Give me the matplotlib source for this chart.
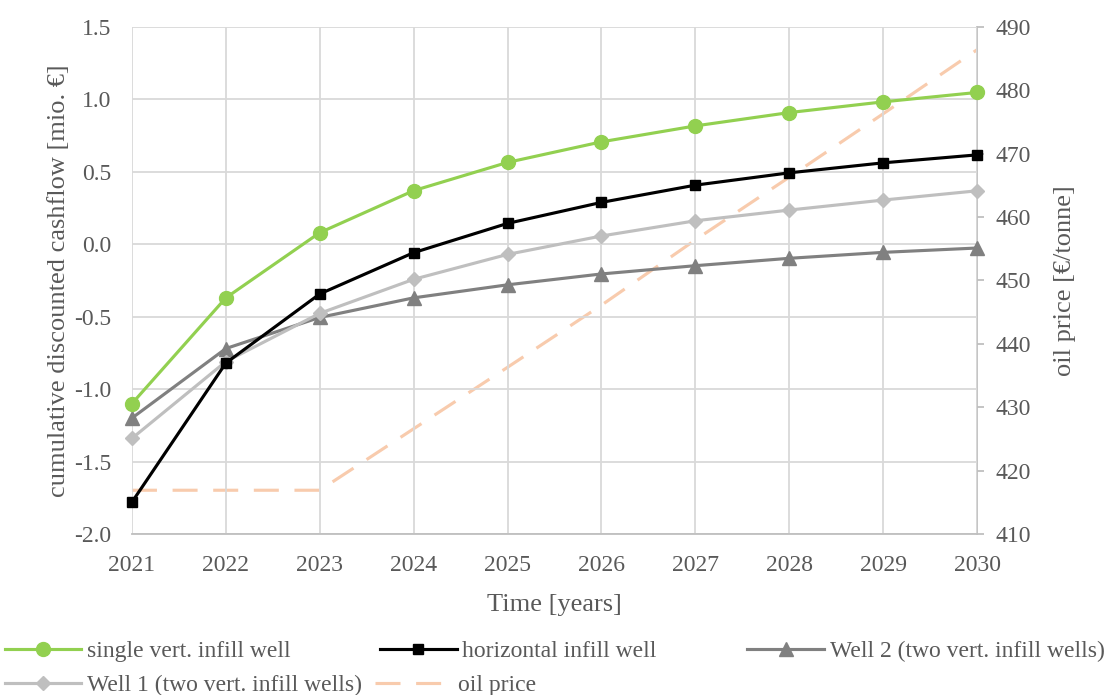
import matplotlib
matplotlib.use("Agg")
import matplotlib.pyplot as plt
from matplotlib.ticker import FormatStrFormatter, MultipleLocator

years = [2021, 2022, 2023, 2024, 2025, 2026, 2027, 2028, 2029, 2030]
single_vert = [-1.10, -0.37, 0.08, 0.37, 0.565, 0.707, 0.817, 0.909, 0.983, 1.048]
horizontal = [-1.78, -0.82, -0.343, -0.058, 0.144, 0.289, 0.408, 0.493, 0.562, 0.617]
well2 = [-1.20, -0.72, -0.505, -0.37, -0.28, -0.205, -0.148, -0.097, -0.056, -0.026]
well1 = [-1.34, -0.81, -0.477, -0.242, -0.070, 0.057, 0.162, 0.236, 0.305, 0.369]
oil_price = [416.9, 416.9, 416.9, 426.6, 436.3, 446.1, 456.4, 466.3, 476.3, 486.4]

labels = ["single vert. infill well", "horizontal infill well",
          "Well 2 (two vert. infill wells)", "Well 1 (two vert. infill wells)",
          "oil price"]

plt.rcParams['font.family'] = ['Liberation Serif', 'DejaVu Serif']
plt.rcParams['axes.unicode_minus'] = False
TXT = '#595959'
FS = 17
FT = 19

fig = plt.figure(figsize=(11.07, 6.95), dpi=100)
ax = fig.add_axes([0.1192, 0.2317, 0.8826 - 0.1192, 0.9612 - 0.2317])
ax2 = ax.twinx()

ax.set_zorder(ax2.get_zorder() + 1)
ax.patch.set_visible(False)

l_oil, = ax2.plot(years, oil_price, color='#F8CBAD', lw=2.25,
                  linestyle=(0, (8, 5)), label=labels[4], clip_on=False)

l3, = ax.plot(years, well2, color='#808080', lw=2.25, marker='^',
              markersize=9.5, label=labels[2], clip_on=False, zorder=2.1)
l4, = ax.plot(years, well1, color='#BFBFBF', lw=2.25, marker='D',
              markersize=7, label=labels[3], clip_on=False, zorder=2.2)
l2, = ax.plot(years, horizontal, color='#000000', lw=2.25, marker='s',
              markersize=7.5, label=labels[1], clip_on=False, zorder=2.3)
l1, = ax.plot(years, single_vert, color='#92D050', lw=2.25, marker='o',
              markersize=10, label=labels[0], clip_on=False, zorder=2.4)

ax.set_xlim(2021, 2030)
ax.set_ylim(-2.0, 1.5)
ax2.set_ylim(410, 490)
ax.yaxis.set_major_locator(MultipleLocator(0.5))
ax.yaxis.set_major_formatter(FormatStrFormatter('%.1f'))
ax2.yaxis.set_major_locator(MultipleLocator(10))
ax.set_xticks(years)

ax.grid(True, color='#D9D9D9', lw=1.3)
ax.set_axisbelow(True)

for a in (ax, ax2):
    for s in ['top', 'left']:
        a.spines[s].set_visible(False)
    a.spines['bottom'].set_color('#BFBFBF')
    a.spines['right'].set_color('#BFBFBF')
    a.spines['bottom'].set_linewidth(1.3)
    a.spines['right'].set_linewidth(1.3)
ax.spines['right'].set_visible(False)
ax2.spines['bottom'].set_visible(False)

ax.tick_params(axis='y', length=0, pad=15, labelsize=FS, labelcolor=TXT)
ax.tick_params(axis='x', length=0, pad=15, labelsize=FS, labelcolor=TXT)
ax2.tick_params(axis='y', length=5, width=1.3, color='#BFBFBF', pad=8,
                labelsize=FS, labelcolor=TXT)

ax.set_xlabel("Time [years]", fontsize=FT, color=TXT, labelpad=13)
ax.set_ylabel("cumulative discounted cashflow [mio. €]", fontsize=FT,
              color=TXT, labelpad=2.5)
ax2.set_ylabel("oil price [€/tonne]", fontsize=FT, color=TXT, labelpad=17)

handles = [l1, l2, l3, l4, l_oil]
positions = [(0.002, 651), (0.341, 651), (0.673, 651), (0.002, 685), (0.337, 685)]
for h, lab, (xp, yp) in zip(handles, labels, positions):
    fig.legend([h], [lab], loc='center left',
               bbox_to_anchor=(xp, 1 - yp / 695), frameon=False,
               fontsize=FS, handlelength=3.25, handletextpad=0.25,
               borderaxespad=0, borderpad=0.1, labelcolor=TXT)

fig.savefig("out.png", dpi=100)
